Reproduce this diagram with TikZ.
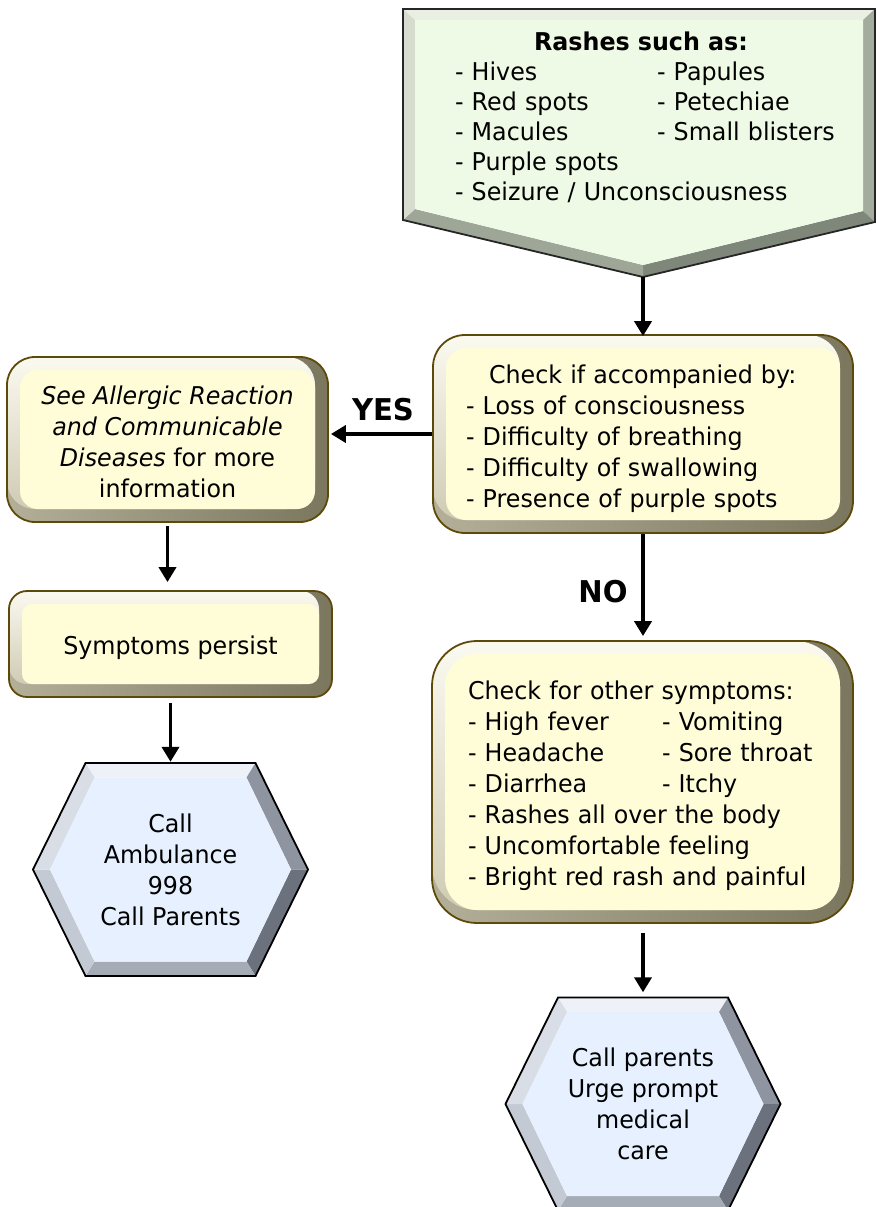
\documentclass[tikz,border=0pt]{standalone}
\usepackage{fontspec}
\setmainfont{DejaVu Sans}[FakeStretch=0.97]
\usetikzlibrary{arrows.meta,calc}

% face, bevel and edge colours
\definecolor{yface}{HTML}{FFFDD8}
\definecolor{ytop}{HTML}{FBFAF0}
\definecolor{yleft}{HTML}{CFCBB4}
\definecolor{ydarkA}{HTML}{B3AF98}
\definecolor{ydarkB}{HTML}{7B775F}
\definecolor{yedge}{HTML}{5E4A08}
\definecolor{gface}{HTML}{EEFAE5}
\definecolor{gtop}{HTML}{E9F0E3}
\definecolor{gleft}{HTML}{D6DDCF}
\definecolor{gright}{HTML}{A3AC9D}
\definecolor{gbotL}{HTML}{9EA797}
\definecolor{gbotR}{HTML}{7E8779}
\definecolor{bface}{HTML}{E6F0FE}
\definecolor{btop}{HTML}{EEF2F8}
\definecolor{bupR}{HTML}{8F95A0}
\definecolor{blowR}{HTML}{6C727D}
\definecolor{bbot}{HTML}{A6ACB6}
\definecolor{blowL}{HTML}{C4CAD3}
\definecolor{bupL}{HTML}{D8DDE6}

\newcommand\topgap[1]{\rule{0pt}{#1}}

\tikzset{
  body/.style={font=\fontsize{24.5}{31}\selectfont, text=black},
  ybox/.style 2 args={body, rounded corners=#1, inner sep=0pt,
    draw=yedge, line width=1.8pt,
    path picture={
      \shade[left color=ydarkA, right color=ydarkB]
        (path picture bounding box.south west) rectangle
        (path picture bounding box.north east);
      \shade[top color=ytop, bottom color=yleft, rounded corners=#1]
        (path picture bounding box.north west) rectangle
        ($(path picture bounding box.south east)+(-13pt,13pt)$);
      \fill[yface, rounded corners=#2]
        ($(path picture bounding box.north west)+(13pt,-13pt)$) rectangle
        ($(path picture bounding box.south east)+(-13pt,13pt)$);}},
  hexnode/.style={body, align=center, inner sep=0pt,
    minimum width=275pt, minimum height=213pt},
  arr/.style={line width=3.8pt, -{Triangle[width=17pt,length=15pt]}},
  lbl/.style={font=\fontsize{30}{36}\selectfont\bfseries, inner sep=0pt},
}

% bevelled hexagon around a centre point
\newcommand\bevelhex[1]{%
  \begin{scope}[shift={(#1)}]
    \fill[btop]  (-85,-106.5) -- (85,-106.5) -- (76,-92) -- (-76,-92) -- cycle;
    \fill[bupR]  (85,-106.5) -- (137.5,0) -- (120.5,0) -- (76,-92) -- cycle;
    \fill[blowR] (137.5,0) -- (85,106.5) -- (76,92) -- (120.5,0) -- cycle;
    \fill[bbot]  (85,106.5) -- (-85,106.5) -- (-76,92) -- (76,92) -- cycle;
    \fill[blowL] (-85,106.5) -- (-137.5,0) -- (-120.5,0) -- (-76,92) -- cycle;
    \fill[bupL]  (-137.5,0) -- (-85,-106.5) -- (-76,-92) -- (-120.5,0) -- cycle;
    \fill[bface] (-76,-92) -- (76,-92) -- (120.5,0) -- (76,92) -- (-76,92)
      -- (-120.5,0) -- cycle;
    \draw[line width=1.8pt, line join=miter] (-85,-106.5) -- (85,-106.5) -- (137.5,0)
      -- (85,106.5) -- (-85,106.5) -- (-137.5,0) -- cycle;
  \end{scope}}

\begin{document}
\begin{tikzpicture}[x=1pt,y=-1pt]
\useasboundingbox (0,0) rectangle (877,1207);

% downward pentagon listing the rashes
\fill[gtop]   (403,9) -- (875,9) -- (863,20) -- (415,20) -- cycle;
\fill[gright] (875,9) -- (875,222) -- (863,211) -- (863,20) -- cycle;
\fill[gbotR]  (875,222) -- (643,277) -- (643,265) -- (863,211) -- cycle;
\fill[gbotL]  (643,277) -- (403,220) -- (415,209) -- (643,265) -- cycle;
\fill[gleft]  (403,220) -- (403,9) -- (415,20) -- (415,209) -- cycle;
\fill[gface] (415,20) -- (863,20) -- (863,211) -- (643,265) -- (415,209) -- cycle;
\draw[line width=1.8pt, draw=black!85] (403,9) -- (875,9) -- (875,222) -- (643,277) -- (403,220) -- cycle;
\coordinate (rtip) at (643,277);
\node[body, font=\fontsize{24.5}{30}\selectfont, align=left, text width=400pt,
      inner sep=0pt] (rashes) at (655,117.5) {%
  \makebox[372pt][c]{\bfseries Rashes such as:}\\
  \makebox[202pt][l]{- Hives}- Papules\\
  \makebox[202pt][l]{- Red spots}- Petechiae\\
  \makebox[202pt][l]{- Macules}- Small blisters\\
  - Purple spots\\
  - Seizure / Unconsciousness};

% decision box
\node[ybox={32pt}{20pt}, minimum width=420pt, minimum height=198pt,
      text width=354pt, align=left] (check1) at (643,434) {%
  \topgap{28.6pt}\hspace*{23pt}Check if accompanied by:\\
  - Loss of consciousness\\
  - Difficulty of breathing\\
  - Difficulty of swallowing\\
  - Presence of purple spots};

% YES branch
\node[ybox={28pt}{18pt}, minimum width=321pt, minimum height=165pt,
      align=center] (allergic) at (167.5,439.5) {%
  \topgap{22.6pt}\textit{See Allergic Reaction}\\
  \textit{and Communicable}\\
  \textit{Diseases} for more\\
  information};
\node[ybox={18pt}{10pt}, minimum width=323pt, minimum height=106pt]
  (persist) at (170.5,644) {\topgap{26.6pt}Symptoms persist};
\coordinate (hL) at (170.5,869.5);
\bevelhex{hL}
\node[hexnode] (ambulance) at (hL) {Call\\Ambulance\\998\\Call Parents};

% NO branch
\node[ybox={45pt}{32pt}, minimum width=421pt, minimum height=282pt,
      text width=349pt, align=left] (check2) at (642.5,782) {%
  \topgap{26.6pt}Check for other symptoms:\\
  \makebox[194pt][l]{- High fever}- Vomiting\\
  \makebox[194pt][l]{- Headache}- Sore throat\\
  \makebox[194pt][l]{- Diarrhea}- Itchy\\
  - Rashes all over the body\\
  - Uncomfortable feeling\\
  - Bright red rash and painful};
\coordinate (hR) at (643,1104);
\bevelhex{hR}
\node[hexnode] (parents) at (hR) {Call parents\\Urge prompt\\medical\\care};

% connectors
\draw[arr, shorten >=-2pt] (rtip) -- (rtip |- check1.north);
\draw[arr, shorten >=2pt] (check1.west) -- (allergic.east |- check1.west);
\draw[arr, shorten >=4pt] (check1.south) -- (check1.south |- check2.north);
\draw[arr, shorten <=3pt, shorten >=8pt] (allergic.south) -- (allergic.south |- persist.north);
\draw[arr, shorten <=5pt, shorten >=1pt] (persist.south) -- (ambulance.north);
\draw[arr, shorten <=9pt, shorten >=5pt] (parents.north |- check2.south) -- (parents.north);

\node[lbl] (yes) at (383,410) {YES};
\node[lbl] (no) at (603,592) {NO};
\end{tikzpicture}
\end{document}
